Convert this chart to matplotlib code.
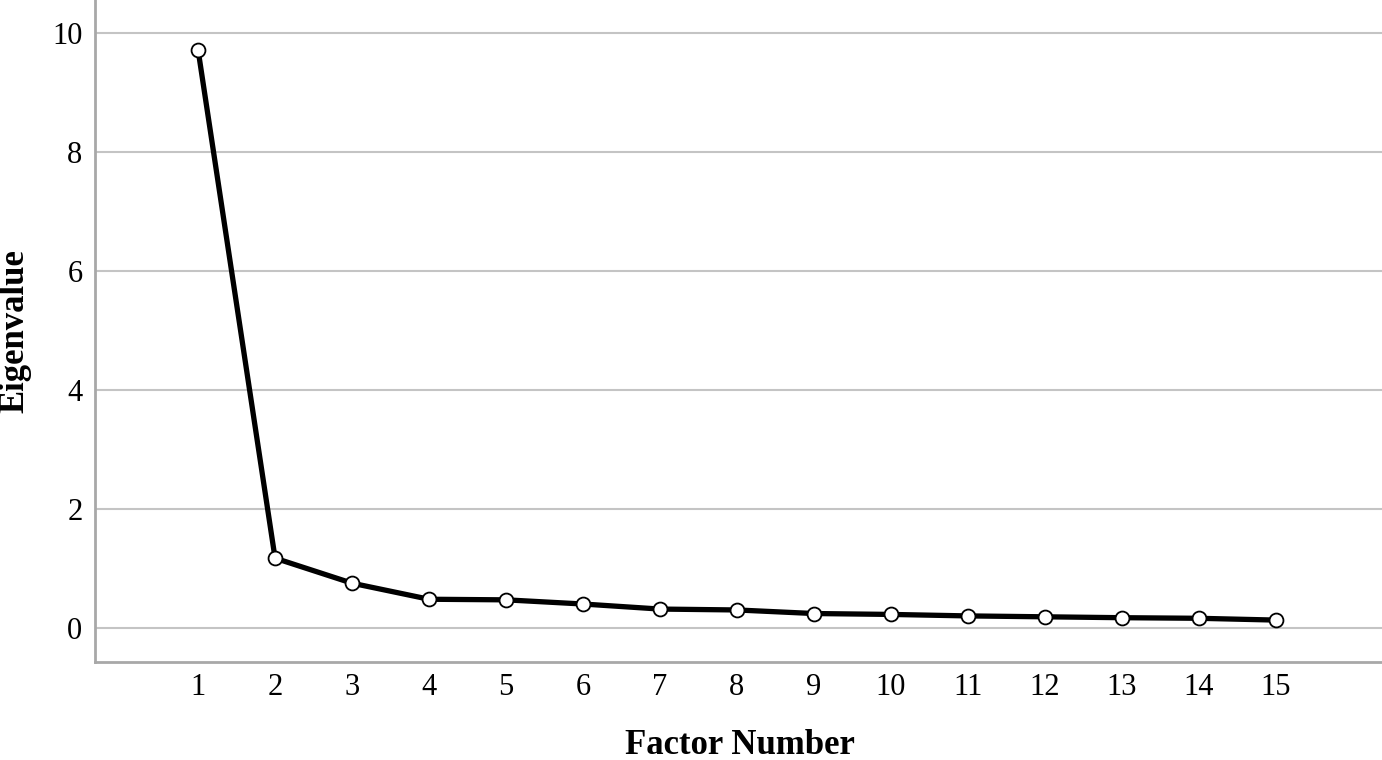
import numpy as np
import matplotlib.pyplot as plt

# --- Scree plot data ---
factor_number = [1, 2, 3, 4, 5, 6, 7, 8, 9, 10, 11, 12, 13, 14, 15]
eigenvalues = [9.72, 1.18, 0.76, 0.49, 0.48, 0.41, 0.325, 0.31, 0.25,
               0.235, 0.21, 0.195, 0.18, 0.17, 0.14]
y_ticks = [0, 2, 4, 6, 8, 10]

plt.rcParams['font.family'] = ['Liberation Serif', 'DejaVu Serif']

fig = plt.figure(figsize=(13.82, 7.6), dpi=100)
ax = fig.add_axes([0.0687, 0.1293, 0.9313, 0.8707])

ax.plot(factor_number, eigenvalues, color='black', lw=3.8, zorder=3,
        marker='o', markersize=10, markerfacecolor='white',
        markeredgecolor='black', markeredgewidth=1.3)

ax.set_xlim(-0.34, 16.38)
ax.set_ylim(-0.56, 10.56)
ax.set_xticks(factor_number)
ax.set_yticks(y_ticks)
ax.tick_params(axis='both', length=0, labelsize=22, colors='black')
ax.tick_params(axis='x', pad=8)
ax.tick_params(axis='y', pad=9)

ax.yaxis.grid(True, color='#c4c4c4', lw=1.5)
ax.set_axisbelow(True)

for side in ['top', 'right']:
    ax.spines[side].set_visible(False)
for side in ['left', 'bottom']:
    ax.spines[side].set_color('#a8a8a8')
    ax.spines[side].set_linewidth(2)

ax.set_xlabel("Factor Number", fontsize=25, fontweight='bold')
ax.set_ylabel("Eigenvalue", fontsize=25, fontweight='bold')
ax.xaxis.set_label_coords(0.501, -0.102)
ax.yaxis.set_label_coords(-0.049, 0.50)

plt.savefig("out.png", dpi=100)
